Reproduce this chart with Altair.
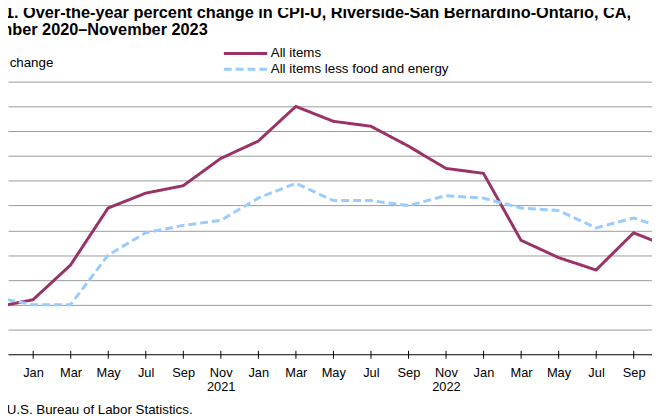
import json
import altair as alt
import pandas as pd

# ---- data ----
periods = ["Nov 2020", "Jan 2021", "Mar 2021", "May 2021", "Jul 2021", "Sep 2021",
           "Nov 2021", "Jan 2022", "Mar 2022", "May 2022", "Jul 2022", "Sep 2022",
           "Nov 2022", "Jan 2023", "Mar 2023", "May 2023", "Jul 2023", "Sep 2023",
           "Nov 2023"]
month_index = [0, 2, 4, 6, 8, 10, 12, 14, 16, 18, 20, 22, 24, 26, 28, 30, 32, 34, 36]
all_items = [1.9, 2.2, 3.6, 5.9, 6.5, 6.8, 7.9, 8.6, 10.0, 9.4, 9.2, 8.4,
             7.5, 7.3, 4.6, 3.9, 3.4, 4.9, 4.3]
core_items = [2.3, 2.0, 2.0, 4.0, 4.9, 5.2, 5.4, 6.3, 6.9, 6.2, 6.2, 6.0,
              6.4, 6.3, 5.9, 5.8, 5.1, 5.5, 5.0]
series_names = ["All items", "All items less food and energy"]
series_colors = ["#993366", "#99CCFF"]

tick_values = [2, 4, 6, 8, 10, 12, 14, 16, 18, 20, 22, 24, 26, 28, 30, 32, 34]
tick_labels = [["Jan"], ["Mar"], ["May"], ["Jul"], ["Sep"], ["Nov", "2021"],
               ["Jan"], ["Mar"], ["May"], ["Jul"], ["Sep"], ["Nov", "2022"],
               ["Jan"], ["Mar"], ["May"], ["Jul"], ["Sep"]]
y_grid_values = [0, 1, 2, 3, 4, 5, 6, 7, 8, 9, 10, 11]

title_lines = ["Chart 1. Over-the-year percent change in CPI-U, Riverside-San Bernardino-Ontario, CA,",
               "November 2020\u2013November 2023"]
source_text = "Source: U.S. Bureau of Labor Statistics."

FONT = "Liberation Sans, Arial, sans-serif"

rows = []
for name, vals in zip(series_names, [all_items, core_items]):
    for p, m, v in zip(periods, month_index, vals):
        rows.append({"period": p, "month": m, "value": v, "series": name})
df = pd.DataFrame(rows)

label_expr = json.dumps(tick_labels) + "[datum.value / 2 - 1]"

legend = alt.Legend(
    title=None, orient="none", legendX=231, legendY=-38,
    symbolType="M-2.75,0H2.75", symbolSize=256, symbolStrokeWidth=3,
    labelFont=FONT, labelFontSize=13.5, labelColor="black", labelOffset=16,
    labelLimit=400, rowPadding=-2, padding=0,
)

lines = alt.Chart(df).mark_line(strokeWidth=3, clip=True).encode(
    x=alt.X(
        "month:Q",
        scale=alt.Scale(domain=[0.668, 34.98], nice=False, zero=False),
        axis=alt.Axis(
            values=tick_values, labelExpr=label_expr, title=None,
            domain=False, grid=False, offset=-4, tickSize=8,
            tickColor="black", tickWidth=1,
            labelFont=FONT, labelFontSize=13, labelColor="black",
            labelPadding=9, labelLineHeight=14, labelAngle=0,
            labelBaseline="top", labelFlush=False, labelOverlap=False,
        ),
    ),
    y=alt.Y(
        "value:Q",
        scale=alt.Scale(domain=[0, 11], nice=False, zero=True),
        axis=alt.Axis(
            values=y_grid_values, labels=False, ticks=False, domain=False,
            grid=True,
            gridColor={"condition": {"test": "datum.value === 0", "value": "black"},
                       "value": "#999999"},
            gridWidth=1,
            title="Percent change", titleAngle=0, titleAlign="left",
            titleBaseline="alphabetic", titleX=-49.1, titleY=-15,
            titleFont=FONT, titleFontSize=13.5, titleFontWeight="normal",
            titleColor="black",
        ),
    ),
    color=alt.Color("series:N", scale=alt.Scale(domain=series_names, range=series_colors),
                    legend=legend),
    strokeDash=alt.StrokeDash("series:N",
                              scale=alt.Scale(domain=series_names, range=[[1, 0], [8, 4]]),
                              legend=legend),
)

one = alt.Data(values=[{}])
title1 = alt.Chart(one).mark_text(
    text=title_lines[0], align="left", baseline="alphabetic",
    font=FONT, fontSize=16.5, fontWeight="bold", color="black",
).encode(x=alt.value(-50.7), y=alt.value(-64.3))
title2 = alt.Chart(one).mark_text(
    text=title_lines[1], align="left", baseline="alphabetic",
    font=FONT, fontSize=16.5, fontWeight="bold", color="black",
).encode(x=alt.value(-50.7), y=alt.value(-47.7))

source = alt.Chart(one).mark_text(
    text=source_text, align="left", baseline="alphabetic",
    font=FONT, fontSize=13.5, color="black",
).encode(x=alt.value(-51.6), y=alt.value(336))

chart = alt.layer(lines, title1, title2, source).properties(
    width=652, height=276,
    padding={"left": 0, "top": 72, "right": 0, "bottom": 64},
    autosize=alt.AutoSizeParams(type="none"),
).configure_view(stroke=None)

chart.save("out.html", embed_options={"renderer": "svg", "actions": False})
